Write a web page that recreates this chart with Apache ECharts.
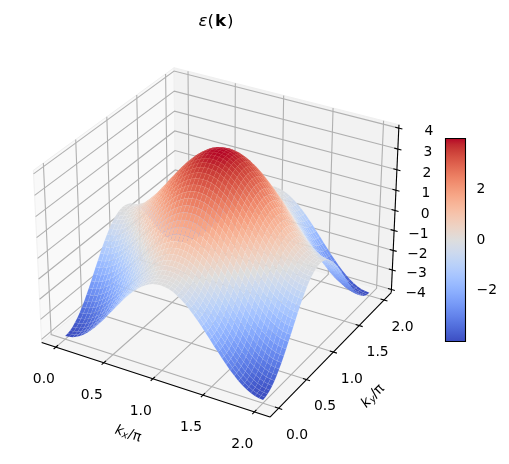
<!DOCTYPE html>
<html>
<head>
<meta charset="utf-8">
<style>html,body{margin:0;padding:0;background:#fff}#chart{width:509px;height:464px}</style>
<script src="https://cdn.jsdelivr.net/npm/echarts@6/dist/echarts.min.js"></script>
</head>
<body>
<div id="chart"></div>
<script>
// Tight-binding band energy on a 51 x 51 k-grid (k in units of pi).
// Each row lists k_y from 0 to 1; the band is even about k_y = 1, so the second half reflects the first.
const kxValues = [0,0.04,0.08,0.12,0.16,0.2,0.24,0.28,0.32,0.36,0.4,0.44,0.48,0.52,0.56,0.6,0.64,0.68,0.72,0.76,0.8,0.84,0.88,0.92,0.96,1,1.04,1.08,1.12,1.16,1.2,1.24,1.28,1.32,1.36,1.4,1.44,1.48,1.52,1.56,1.6,1.64,1.68,1.72,1.76,1.8,1.84,1.88,1.92,1.96,2];
const kyValues = kxValues;
const row00 = [-4,-3.98,-3.94,-3.86,-3.75,-3.62,-3.46,-3.27,-3.07,-2.85,-2.62,-2.37,-2.13,-1.87,-1.63,-1.38,-1.15,-0.93,-0.73,-0.54,-0.38,-0.25,-0.14,-0.06,-0.02,0];
const row01 = [-3.98,-3.96,-3.92,-3.84,-3.73,-3.6,-3.44,-3.25,-3.05,-2.83,-2.6,-2.35,-2.11,-1.85,-1.61,-1.36,-1.13,-0.91,-0.71,-0.52,-0.36,-0.23,-0.12,-0.04,0,0.02];
const row02 = [-3.94,-3.92,-3.88,-3.8,-3.69,-3.56,-3.4,-3.21,-3.01,-2.79,-2.56,-2.31,-2.07,-1.81,-1.57,-1.32,-1.09,-0.87,-0.67,-0.48,-0.32,-0.19,-0.08,0,0.04,0.06];
const row03 = [-3.86,-3.84,-3.8,-3.72,-3.61,-3.48,-3.32,-3.13,-2.93,-2.71,-2.48,-2.23,-1.99,-1.73,-1.49,-1.24,-1.01,-0.79,-0.59,-0.4,-0.24,-0.11,0,0.08,0.12,0.14];
const row04 = [-3.75,-3.73,-3.69,-3.61,-3.5,-3.37,-3.21,-3.02,-2.82,-2.6,-2.37,-2.12,-1.88,-1.62,-1.38,-1.13,-0.9,-0.68,-0.48,-0.29,-0.13,0,0.11,0.19,0.23,0.25];
const row05 = [-3.62,-3.6,-3.56,-3.48,-3.37,-3.24,-3.08,-2.89,-2.69,-2.47,-2.24,-1.99,-1.75,-1.49,-1.25,-1,-0.77,-0.55,-0.35,-0.16,0,0.13,0.24,0.32,0.36,0.38];
const row06 = [-3.46,-3.44,-3.4,-3.32,-3.21,-3.08,-2.92,-2.73,-2.53,-2.31,-2.08,-1.83,-1.59,-1.33,-1.09,-0.84,-0.61,-0.39,-0.19,0,0.16,0.29,0.4,0.48,0.52,0.54];
const row07 = [-3.27,-3.25,-3.21,-3.13,-3.02,-2.89,-2.73,-2.54,-2.34,-2.12,-1.89,-1.64,-1.4,-1.14,-0.9,-0.65,-0.42,-0.2,0,0.19,0.35,0.48,0.59,0.67,0.71,0.73];
const row08 = [-3.07,-3.05,-3.01,-2.93,-2.82,-2.69,-2.53,-2.34,-2.14,-1.92,-1.69,-1.44,-1.2,-0.94,-0.7,-0.45,-0.22,0,0.2,0.39,0.55,0.68,0.79,0.87,0.91,0.93];
const row09 = [-2.85,-2.83,-2.79,-2.71,-2.6,-2.47,-2.31,-2.12,-1.92,-1.7,-1.47,-1.22,-0.98,-0.72,-0.48,-0.23,0,0.22,0.42,0.61,0.77,0.9,1.01,1.09,1.13,1.15];
const row10 = [-2.62,-2.6,-2.56,-2.48,-2.37,-2.24,-2.08,-1.89,-1.69,-1.47,-1.24,-0.99,-0.75,-0.49,-0.25,0,0.23,0.45,0.65,0.84,1,1.13,1.24,1.32,1.36,1.38];
const row11 = [-2.37,-2.35,-2.31,-2.23,-2.12,-1.99,-1.83,-1.64,-1.44,-1.22,-0.99,-0.74,-0.5,-0.24,0,0.25,0.48,0.7,0.9,1.09,1.25,1.38,1.49,1.57,1.61,1.63];
const row12 = [-2.13,-2.11,-2.07,-1.99,-1.88,-1.75,-1.59,-1.4,-1.2,-0.98,-0.75,-0.5,-0.26,0,0.24,0.49,0.72,0.94,1.14,1.33,1.49,1.62,1.73,1.81,1.85,1.87];
const row13 = [-1.87,-1.85,-1.81,-1.73,-1.62,-1.49,-1.33,-1.14,-0.94,-0.72,-0.49,-0.24,0,0.26,0.5,0.75,0.98,1.2,1.4,1.59,1.75,1.88,1.99,2.07,2.11,2.13];
const row14 = [-1.63,-1.61,-1.57,-1.49,-1.38,-1.25,-1.09,-0.9,-0.7,-0.48,-0.25,0,0.24,0.5,0.74,0.99,1.22,1.44,1.64,1.83,1.99,2.12,2.23,2.31,2.35,2.37];
const row15 = [-1.38,-1.36,-1.32,-1.24,-1.13,-1,-0.84,-0.65,-0.45,-0.23,0,0.25,0.49,0.75,0.99,1.24,1.47,1.69,1.89,2.08,2.24,2.37,2.48,2.56,2.6,2.62];
const row16 = [-1.15,-1.13,-1.09,-1.01,-0.9,-0.77,-0.61,-0.42,-0.22,0,0.23,0.48,0.72,0.98,1.22,1.47,1.7,1.92,2.12,2.31,2.47,2.6,2.71,2.79,2.83,2.85];
const row17 = [-0.93,-0.91,-0.87,-0.79,-0.68,-0.55,-0.39,-0.2,0,0.22,0.45,0.7,0.94,1.2,1.44,1.69,1.92,2.14,2.34,2.53,2.69,2.82,2.93,3.01,3.05,3.07];
const row18 = [-0.73,-0.71,-0.67,-0.59,-0.48,-0.35,-0.19,0,0.2,0.42,0.65,0.9,1.14,1.4,1.64,1.89,2.12,2.34,2.54,2.73,2.89,3.02,3.13,3.21,3.25,3.27];
const row19 = [-0.54,-0.52,-0.48,-0.4,-0.29,-0.16,0,0.19,0.39,0.61,0.84,1.09,1.33,1.59,1.83,2.08,2.31,2.53,2.73,2.92,3.08,3.21,3.32,3.4,3.44,3.46];
const row20 = [-0.38,-0.36,-0.32,-0.24,-0.13,0,0.16,0.35,0.55,0.77,1,1.25,1.49,1.75,1.99,2.24,2.47,2.69,2.89,3.08,3.24,3.37,3.48,3.56,3.6,3.62];
const row21 = [-0.25,-0.23,-0.19,-0.11,0,0.13,0.29,0.48,0.68,0.9,1.13,1.38,1.62,1.88,2.12,2.37,2.6,2.82,3.02,3.21,3.37,3.5,3.61,3.69,3.73,3.75];
const row22 = [-0.14,-0.12,-0.08,0,0.11,0.24,0.4,0.59,0.79,1.01,1.24,1.49,1.73,1.99,2.23,2.48,2.71,2.93,3.13,3.32,3.48,3.61,3.72,3.8,3.84,3.86];
const row23 = [-0.06,-0.04,0,0.08,0.19,0.32,0.48,0.67,0.87,1.09,1.32,1.57,1.81,2.07,2.31,2.56,2.79,3.01,3.21,3.4,3.56,3.69,3.8,3.88,3.92,3.94];
const row24 = [-0.02,0,0.04,0.12,0.23,0.36,0.52,0.71,0.91,1.13,1.36,1.61,1.85,2.11,2.35,2.6,2.83,3.05,3.25,3.44,3.6,3.73,3.84,3.92,3.96,3.98];
const row25 = [0,0.02,0.06,0.14,0.25,0.38,0.54,0.73,0.93,1.15,1.38,1.63,1.87,2.13,2.37,2.62,2.85,3.07,3.27,3.46,3.62,3.75,3.86,3.94,3.98,4];
const halfGrid = [row00,row01,row02,row03,row04,row05,row06,row07,row08,row09,row10,row11,row12,row13,row14,row15,row16,row17,row18,row19,row20,row21,row22,row23,row24,row25];
const reflect = list => list.concat(list.slice(0, -1).reverse());
const energyGrid = reflect(halfGrid).map(reflect);

const kTicks = [0, 0.5, 1, 1.5, 2];
const kTickLabels = ['0.0', '0.5', '1.0', '1.5', '2.0'];
const zTicks = [-4, -3, -2, -1, 0, 1, 2, 3, 4];
const zTickLabels = ['\u22124', '\u22123', '\u22122', '\u22121', '0', '1', '2', '3', '4'];
const colorbarTicks = [-2, 0, 2];
const colorLimit = 3.99;

// Data limits of the 3D box and its on-screen scale.
const xLim = [-0.15, 2.15], yLim = [-0.15, 2.15], zLim = [-4.16, 4.16];
const WIDTH = 509, HEIGHT = 464, SCALE = 2197, CX = 219.7, CY = 234;
const FONT = '"DejaVu Sans"';

// Camera at elevation 30, azimuth -60, distance 10, box aspect 4:4:3.
const aspect = [1.1905, 1.1905, 0.8929];
const camU = [0.866, 0.5, 0], camV = [-0.25, 0.433, 0.866], camW = [0.433, -0.75, 0.5];
function toBox(x, y, z) {
  return [
    ((x - xLim[0]) / (xLim[1] - xLim[0]) - 0.5) * aspect[0],
    ((y - yLim[0]) / (yLim[1] - yLim[0]) - 0.5) * aspect[1],
    ((z - zLim[0]) / (zLim[1] - zLim[0]) - 0.5) * aspect[2]
  ];
}
const dot = (a, b) => a[0] * b[0] + a[1] * b[1] + a[2] * b[2];
function project(x, y, z) {
  const p = toBox(x, y, z), d = 10 - dot(p, camW);
  return [dot(p, camU) / d, dot(p, camV) / d];
}
function depth(x, y, z) { return 10 - dot(toBox(x, y, z), camW); }

// Moreland diverging colour table, 33 evenly spaced stops.
const coolwarm = [[59,76,192],[68,90,204],[77,104,215],[87,117,225],[98,130,234],[108,142,241],[119,154,247],[130,165,251],[141,176,254],[152,185,255],[163,194,255],[174,201,253],[184,208,249],[194,213,244],[204,217,238],[213,219,230],[221,221,221],[229,216,209],[236,211,197],[241,204,185],[245,196,173],[247,187,160],[247,177,148],[247,166,135],[244,154,123],[241,141,111],[236,127,99],[229,112,88],[222,96,77],[213,80,66],[203,62,56],[192,40,47],[180,4,38]];
function colorOf(v) {
  const t = Math.max(0, Math.min(1, (v + colorLimit) / (2 * colorLimit))) * (coolwarm.length - 1);
  const k = Math.min(coolwarm.length - 2, Math.floor(t)), f = t - k;
  const c = coolwarm[k].map((a, n) => Math.round(a + (coolwarm[k + 1][n] - a) * f));
  return 'rgb(' + c.join(',') + ')';
}

// Back and side walls plus floor.
const [x0, x1] = xLim, [y0, y1] = yLim, [z0, z1] = zLim;
const panes = [
  { fill: '#f9f9f9', pts: [[x0,y0,z0],[x0,y1,z0],[x0,y1,z1],[x0,y0,z1]] },
  { fill: '#f2f2f2', pts: [[x0,y1,z0],[x1,y1,z0],[x1,y1,z1],[x0,y1,z1]] },
  { fill: '#f5f5f5', pts: [[x0,y0,z0],[x1,y0,z0],[x1,y1,z0],[x0,y1,z0]] }
];

// Grid polylines across the walls and floor.
const gridLines = [];
kTicks.forEach(t => gridLines.push([[t,y0,z0],[t,y1,z0],[t,y1,z1]]));
kTicks.forEach(t => gridLines.push([[x1,t,z0],[x0,t,z0],[x0,t,z1]]));
zTicks.forEach(t => gridLines.push([[x0,y0,t],[x0,y1,t],[x1,y1,t]]));

// Axis spines and tick marks.
const axisLines = [
  [[x0,y0,z0],[x1,y0,z0]],
  [[x1,y0,z0],[x1,y1,z0]],
  [[x1,y1,z0],[x1,y1,z1]]
];
const tickHalfXY = 0.035, tickHalfZ = 0.035;
kTicks.forEach(t => axisLines.push([[t,y0+tickHalfXY,z0],[t,y0-tickHalfXY,z0]]));
kTicks.forEach(t => axisLines.push([[x1-tickHalfXY,t,z0],[x1+tickHalfXY,t,z0]]));
zTicks.forEach(t => axisLines.push([[x1-tickHalfZ,y1,t],[x1+tickHalfZ,y1,t]]));

// Tick labels anchored to their tick with a small pixel offset.
const labels = [];
kTicks.forEach((t, n) => labels.push({ p: [t,y0,z0], dx: -12, dy: 32.5, text: kTickLabels[n], align: 'center' }));
kTicks.forEach((t, n) => labels.push({ p: [x1,t,z0], dx: 18.5, dy: 27, text: kTickLabels[n], align: 'center' }));
zTicks.forEach((t, n) => labels.push({ p: [x1,y1,t], dx: 34.5, dy: 3.5, text: zTickLabels[n], align: 'right' }));

// Surface facets ordered back to front.
const facets = [];
for (let i = 0; i < kxValues.length - 1; i++) {
  for (let j = 0; j < kyValues.length - 1; j++) {
    const corners = [[i,j],[i+1,j],[i+1,j+1],[i,j+1]];
    let d = 0;
    corners.forEach(c => { d += depth(kxValues[c[0]], kyValues[c[1]], energyGrid[c[0]][c[1]]); });
    facets.push({ i, j, d });
  }
}
facets.sort((a, b) => b.d - a.d);

const toPx = (api, p) => { const q = project(p[0], p[1], p[2]); return api.coord(q); };
const base = { type: 'custom', coordinateSystem: 'cartesian2d', xAxisIndex: 0, yAxisIndex: 0, silent: true, clip: false, animation: false, progressive: 0 };

const option = {
  animation: false,
  backgroundColor: '#fff',
  title: {
    text: '{e|\u03b5}({k|k})', left: 211, top: 8, textAlign: 'center',
    textStyle: {
      fontFamily: FONT, fontSize: 16.7, fontWeight: 'normal', color: '#000',
      rich: {
        e: { fontFamily: FONT, fontSize: 16.7, fontStyle: 'italic', color: '#000' },
        k: { fontFamily: FONT, fontSize: 16.7, fontWeight: 'bold', color: '#000', padding: [0,1,0,1] }
      }
    }
  },
  grid: [
    { left: 0, top: 0, width: WIDTH, height: HEIGHT },
    { left: 445.5, top: 138.5, width: 20, height: 203 }
  ],
  xAxis: [
    { type: 'value', gridIndex: 0, show: false, min: (0 - CX) / SCALE, max: (WIDTH - CX) / SCALE },
    { type: 'value', gridIndex: 1, show: false, min: 0, max: 1 }
  ],
  yAxis: [
    { type: 'value', gridIndex: 0, show: false, min: (CY - HEIGHT) / SCALE, max: CY / SCALE },
    {
      type: 'value', gridIndex: 1, position: 'right', min: -colorLimit, max: colorLimit,
      splitLine: { show: false },
      axisLine: { show: false },
      axisTick: { show: true, length: 5, customValues: colorbarTicks, lineStyle: { color: '#000', width: 1.1 } },
      axisLabel: {
        show: true, customValues: colorbarTicks, margin: 11, fontFamily: FONT, fontSize: 13.9, color: '#000',
        formatter: v => String(v).replace('-', '\u2212')
      }
    }
  ],
  series: [
    Object.assign({}, base, {
      data: panes.map((_, n) => [n]),
      renderItem: (params, api) => {
        const pane = panes[api.value(0)];
        return { type: 'polygon', shape: { points: pane.pts.map(p => toPx(api, p)) }, style: { fill: pane.fill, stroke: '#f0f0f0', lineWidth: 1 } };
      }
    }),
    Object.assign({}, base, {
      data: gridLines.map((_, n) => [n]),
      renderItem: (params, api) => ({
        type: 'polyline', shape: { points: gridLines[api.value(0)].map(p => toPx(api, p)) },
        style: { fill: null, stroke: '#b0b0b0', lineWidth: 1.1 }
      })
    }),
    Object.assign({}, base, {
      data: axisLines.map((_, n) => [n]),
      renderItem: (params, api) => ({
        type: 'polyline', shape: { points: axisLines[api.value(0)].map(p => toPx(api, p)) },
        style: { fill: null, stroke: '#000', lineWidth: 1.1 }
      })
    }),
    Object.assign({}, base, {
      data: facets.map(f => [f.i, f.j]),
      renderItem: (params, api) => {
        const i = api.value(0), j = api.value(1);
        const corners = [[i,j],[i+1,j],[i+1,j+1],[i,j+1]];
        let sum = 0;
        const pts = corners.map(c => {
          const z = energyGrid[c[0]][c[1]];
          sum += z;
          return toPx(api, [kxValues[c[0]], kyValues[c[1]], z]);
        });
        return { type: 'polygon', shape: { points: pts }, style: { fill: colorOf(sum / 4), stroke: 'rgba(255,255,255,0.08)', lineWidth: 0.5 } };
      }
    }),
    Object.assign({}, base, {
      data: labels.map((_, n) => [n]),
      renderItem: (params, api) => {
        const l = labels[api.value(0)], q = toPx(api, l.p);
        return { type: 'text', x: q[0] + l.dx, y: q[1] + l.dy, style: { text: l.text, fill: '#000', font: '13.9px ' + FONT, textAlign: l.align, textVerticalAlign: 'middle' } };
      }
    }),
    Object.assign({}, base, {
      data: [[0]],
      renderItem: () => ({
        type: 'group',
        children: [
          { type: 'text', x: 128, y: 434, rotation: -18 * Math.PI / 180,
            style: { text: '{i|k}{s|x}{n|/\u03c0}', fill: '#000', textAlign: 'center', textVerticalAlign: 'middle',
              rich: { i: { font: 'italic 13.9px ' + FONT }, s: { font: 'italic 9.7px ' + FONT, verticalAlign: 'bottom', padding: [5,0,0,0] }, n: { font: '13.9px ' + FONT } } } },
          { type: 'text', x: 373, y: 396, rotation: 46 * Math.PI / 180,
            style: { text: '{i|k}{s|y}{n|/\u03c0}', fill: '#000', textAlign: 'center', textVerticalAlign: 'middle',
              rich: { i: { font: 'italic 13.9px ' + FONT }, s: { font: 'italic 9.7px ' + FONT, verticalAlign: 'bottom', padding: [5,0,0,0] }, n: { font: '13.9px ' + FONT } } } }
        ]
      })
    }),
    // Colour bar drawn on its own value axis.
    {
      type: 'custom', coordinateSystem: 'cartesian2d', xAxisIndex: 1, yAxisIndex: 1, silent: true, clip: false, animation: false,
      data: [[-colorLimit, colorLimit]],
      renderItem: (params, api) => {
        const top = api.coord([0, api.value(1)]), bottom = api.coord([1, api.value(0)]);
        const stops = coolwarm.map((c, n) => ({ offset: 1 - n / (coolwarm.length - 1), color: 'rgb(' + c.join(',') + ')' }));
        return {
          type: 'rect',
          shape: { x: top[0], y: top[1], width: bottom[0] - top[0], height: bottom[1] - top[1] },
          style: { fill: new echarts.graphic.LinearGradient(0, 0, 0, 1, stops.reverse()), stroke: '#000', lineWidth: 1.1 }
        };
      }
    }
  ]
};

const chart = echarts.init(document.getElementById('chart'), null, { renderer: 'canvas', width: WIDTH, height: HEIGHT });
chart.setOption(option);
</script>
</body>
</html>
